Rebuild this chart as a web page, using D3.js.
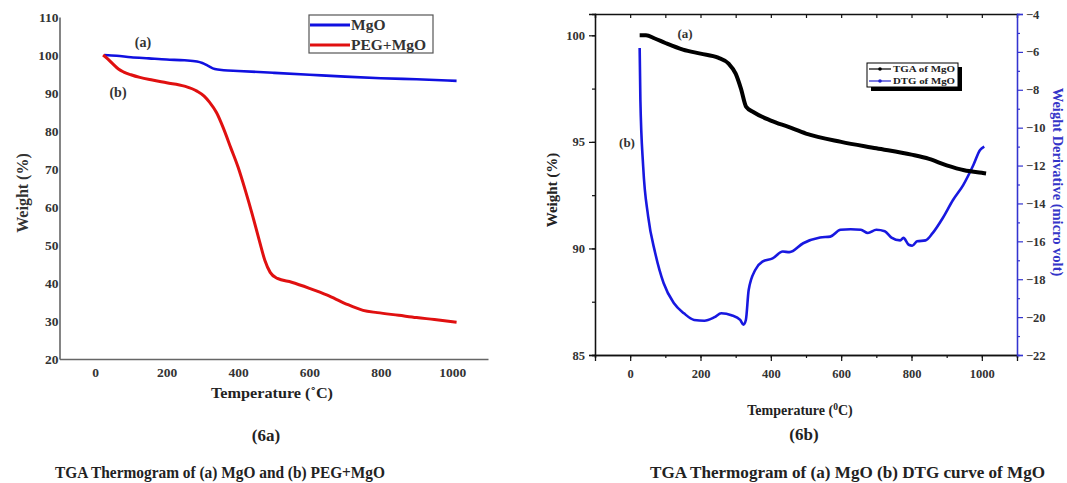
<!DOCTYPE html>
<html>
<head>
<meta charset="utf-8">
<script src="https://cdn.jsdelivr.net/npm/d3@7"></script>
<style>
  body { margin: 0; background: #fff; }
  svg text { font-family: "Liberation Serif", "Times New Roman", serif; font-weight: bold; }
</style>
</head>
<body>
<svg id="fig" width="1067" height="483"></svg>
<script>
// ---- left panel (6a): MgO vs PEG+MgO
const mgoT = [25, 60, 100, 150, 200, 250, 285, 300, 315, 335, 360, 400, 500, 600, 700, 800, 900, 1012]
const mgoW = [100, 99.8, 99.4, 99.1, 98.8, 98.6, 98.3, 97.9, 97.2, 96.3, 96.0, 95.8, 95.3, 94.8, 94.3, 93.9, 93.6, 93.2]
const pegT = [22, 35, 50, 65, 80, 100, 125, 160, 200, 250, 285, 305, 320, 340, 360, 380, 400, 420, 440, 460, 475, 490, 510, 550, 600, 650, 700, 750, 790, 850, 900, 950, 1012]
const pegW = [100, 99.0, 97.6, 96.3, 95.5, 94.8, 94.1, 93.4, 92.7, 91.8, 90.5, 89.2, 87.6, 84.8, 80.5, 75.5, 70.5, 64.5, 58, 51, 46, 42.8, 41.2, 40.2, 38.6, 36.8, 34.6, 32.8, 32.2, 31.5, 30.9, 30.4, 29.7]
const leftYTicks = [20, 30, 40, 50, 60, 70, 80, 90, 100, 110]
const tempTicks = [0, 200, 400, 600, 800, 1000]

// ---- right panel (6b): TGA and DTG of MgO
const tgaT = [27, 45, 70, 100, 150, 200, 250, 280, 300, 315, 330, 350, 400, 450, 500, 600, 700, 800, 850, 900, 950, 1000, 1012]
const tgaW = [100, 100, 99.85, 99.64, 99.33, 99.14, 98.95, 98.67, 98.2, 97.5, 96.64, 96.4, 96.0, 95.7, 95.39, 95.0, 94.7, 94.4, 94.2, 93.9, 93.67, 93.55, 93.52]
const dtgT = [27, 29, 37, 51, 71, 95, 124, 153, 182, 211, 240, 259, 288, 313, 322, 329, 337, 356, 376, 405, 434, 453, 492, 540, 569, 598, 627, 656, 676, 700, 724, 743, 768, 777, 792, 802, 816, 840, 860, 889, 918, 947, 976, 995, 1007]
const dtgV = [-5.8, -8.5, -12.05, -14.67, -16.6, -18.2, -19.26, -19.8, -20.15, -20.19, -20.0, -19.8, -19.9, -20.15, -20.4, -20.15, -18.57, -17.5, -17.07, -16.9, -16.54, -16.57, -16.1, -15.8, -15.75, -15.39, -15.36, -15.39, -15.56, -15.39, -15.47, -15.8, -15.95, -15.82, -16.18, -16.23, -16.0, -15.95, -15.57, -14.77, -13.82, -13.03, -11.97, -11.18, -11.0]
const wTicks = [85, 90, 95, 100]
const dTicks = [-22, -20, -18, -16, -14, -12, -10, -8, -6, -4]

const svg = d3.select("#fig")
const zip = (xs, ys) => xs.map((x, i) => [x, ys[i]])
const fmt = d3.format("d")

// ================= panel 6a =================
{
  const x = d3.scaleLinear().domain([-100, 1100]).range([59.5, 488])
  const y = d3.scaleLinear().domain([20, 110]).range([359, 17])
  const g = svg.append("g")

  g.append("g").attr("transform", "translate(0,359)")
    .call(d3.axisBottom(x).tickValues(tempTicks).tickFormat(fmt).tickSize(0).tickPadding(8))
    .call(a => a.select(".domain").attr("stroke", "#666").attr("stroke-width", 1.6))
    .call(a => a.selectAll("text").attr("font-size", 13.5).attr("fill", "#333"))

  g.append("g").attr("transform", "translate(59.5,0)")
    .call(d3.axisLeft(y).tickValues(leftYTicks).tickSize(0).tickPadding(1))
    .call(a => a.select(".domain").attr("stroke", "#666").attr("stroke-width", 1.6))
    .call(a => a.selectAll("text").attr("font-size", 13.5).attr("fill", "#333"))

  const line = d3.line().x(d => x(d[0])).y(d => y(d[1])).curve(d3.curveMonotoneX)
  g.append("path").datum(zip(mgoT, mgoW)).attr("d", line)
    .attr("fill", "none").attr("stroke", "#1010e0").attr("stroke-width", 2.6)
  g.append("path").datum(zip(pegT, pegW)).attr("d", line)
    .attr("fill", "none").attr("stroke", "#e01010").attr("stroke-width", 3)

  // legend
  const lg = g.append("g")
  lg.append("rect").attr("x", 309).attr("y", 15).attr("width", 124).attr("height", 38)
    .attr("fill", "#fff").attr("stroke", "#555").attr("stroke-width", 1.2)
  ;[["MgO", "#1010e0", 25], ["PEG+MgO", "#e01010", 45]].forEach(([t, c, yy]) => {
    lg.append("line").attr("x1", 310).attr("x2", 350).attr("y1", yy).attr("y2", yy)
      .attr("stroke", c).attr("stroke-width", 3)
    lg.append("text").attr("x", 351).attr("y", yy + 5).attr("font-size", 15.5).attr("fill", "#333").text(t)
  })

  g.append("text").attr("x", 143).attr("y", 47).attr("text-anchor", "middle").attr("font-size", 14).attr("fill", "#333").text("(a)")
  g.append("text").attr("x", 118).attr("y", 97).attr("text-anchor", "middle").attr("font-size", 14).attr("fill", "#333").text("(b)")

  g.append("text").attr("transform", "translate(28,193) rotate(-90)").attr("text-anchor", "middle")
    .attr("font-size", 16).attr("fill", "#333").text("Weight (%)")
  g.append("text").attr("x", 272).attr("y", 398).attr("text-anchor", "middle")
    .attr("font-size", 14.5).attr("fill", "#222")
    .attr("textLength", 122).attr("lengthAdjust", "spacingAndGlyphs").text("Temperature (˚C)")
  g.append("text").attr("x", 266).attr("y", 441).attr("text-anchor", "middle")
    .attr("font-size", 17).attr("fill", "#222").text("(6a)")
  g.append("text").attr("x", 55).attr("y", 478).attr("font-size", 16).attr("fill", "#222")
    .attr("textLength", 330).attr("lengthAdjust", "spacingAndGlyphs")
    .text("TGA Thermogram of (a) MgO and (b) PEG+MgO")
}

// ================= panel 6b =================
{
  const x = d3.scaleLinear().domain([-100, 1100]).range([595, 1017])
  const y = d3.scaleLinear().domain([85, 101]).range([355, 14])
  const y2 = d3.scaleLinear().domain([-22, -4]).range([355, 14])
  const g = svg.append("g")
  const minorT = d3.range(-100, 1101, 100)

  const style = a => {
    a.select(".domain").attr("stroke", "#111").attr("stroke-width", 1.3)
    a.selectAll("line").attr("stroke", "#111").attr("stroke-width", 1.2)
    a.selectAll("text").attr("font-size", 12.5).attr("fill", "#333")
  }

  // bottom: minor + major
  g.append("g").attr("transform", "translate(0,355)")
    .call(d3.axisBottom(x).tickValues(minorT).tickSize(3).tickFormat(""))
    .call(style)
  g.append("g").attr("transform", "translate(0,355)")
    .call(d3.axisBottom(x).tickValues(tempTicks).tickFormat(fmt).tickSize(6).tickPadding(8))
    .call(style)
  // top, inward ticks
  g.append("g").attr("transform", "translate(0,14)")
    .call(d3.axisBottom(x).tickValues(minorT).tickSize(4).tickFormat(""))
    .call(style)
  // left
  g.append("g").attr("transform", "translate(595,0)")
    .call(d3.axisLeft(y).tickValues(d3.range(85, 101, 2.5)).tickSize(3).tickFormat(""))
    .call(style)
  g.append("g").attr("transform", "translate(595,0)")
    .call(d3.axisLeft(y).tickValues(wTicks).tickSize(6).tickPadding(4))
    .call(style)
  // right (blue)
  const blueAxis = a => {
    a.select(".domain").attr("stroke", "#3434d0").attr("stroke-width", 1.3)
    a.selectAll("line").attr("stroke", "#3434d0").attr("stroke-width", 1.2)
    a.selectAll("text").attr("font-size", 12.5).attr("fill", "#333")
  }
  g.append("g").attr("transform", "translate(1017,0)")
    .call(d3.axisRight(y2).tickValues(d3.range(-21, -4, 2)).tickSize(3).tickFormat(""))
    .call(blueAxis)
  g.append("g").attr("transform", "translate(1017,0)")
    .call(d3.axisRight(y2).tickValues(dTicks).tickSize(6).tickPadding(3))
    .call(blueAxis)

  const tga = d3.line().x(d => x(d[0])).y(d => y(d[1])).curve(d3.curveMonotoneX)
  const dtg = d3.line().x(d => x(d[0])).y(d => y2(d[1])).curve(d3.curveMonotoneX)
  g.append("path").datum(zip(dtgT, dtgV)).attr("d", dtg)
    .attr("fill", "none").attr("stroke", "#1818e0").attr("stroke-width", 2.6)
  g.append("path").datum(zip(tgaT, tgaW)).attr("d", tga)
    .attr("fill", "none").attr("stroke", "#000").attr("stroke-width", 4)

  // legend with shadow
  const lg = g.append("g")
  lg.append("rect").attr("x", 871).attr("y", 67).attr("width", 91).attr("height", 24).attr("fill", "#000")
  lg.append("rect").attr("x", 867).attr("y", 63).attr("width", 91).attr("height", 24)
    .attr("fill", "#fff").attr("stroke", "#000").attr("stroke-width", 1)
  ;[["TGA of MgO", "#000", 69], ["DTG of MgO", "#2222d0", 81]].forEach(([t, c, yy]) => {
    lg.append("line").attr("x1", 869).attr("x2", 891).attr("y1", yy).attr("y2", yy)
      .attr("stroke", c).attr("stroke-width", 1.2)
    lg.append("circle").attr("cx", 880).attr("cy", yy).attr("r", 1.8).attr("fill", c)
    lg.append("text").attr("x", 893).attr("y", yy + 3).attr("font-size", 8.5).attr("fill", "#222")
      .attr("textLength", 62).attr("lengthAdjust", "spacingAndGlyphs").text(t)
  })

  g.append("text").attr("x", 685).attr("y", 38).attr("text-anchor", "middle").attr("font-size", 13).attr("fill", "#333").text("(a)")
  g.append("text").attr("x", 627).attr("y", 147).attr("text-anchor", "middle").attr("font-size", 13).attr("fill", "#333").text("(b)")

  g.append("text").attr("transform", "translate(557,190) rotate(-90)").attr("text-anchor", "middle")
    .attr("font-size", 15).attr("fill", "#222").text("Weight (%)")
  g.append("text").attr("transform", "translate(1053,182) rotate(90)").attr("text-anchor", "middle")
    .attr("font-size", 14.5).attr("fill", "#3434c8").text("Weight Derivative (micro volt)")

  const xl = g.append("text").attr("x", 800).attr("y", 415).attr("text-anchor", "middle")
    .attr("font-size", 14).attr("fill", "#222")
  xl.append("tspan").text("Temperature (")
  xl.append("tspan").attr("font-size", 9.5).attr("dy", -5).text("0")
  xl.append("tspan").attr("dy", 5).text("C)")
  g.append("text").attr("x", 804).attr("y", 440).attr("text-anchor", "middle")
    .attr("font-size", 17).attr("fill", "#222").text("(6b)")
  g.append("text").attr("x", 650).attr("y", 478).attr("font-size", 16).attr("fill", "#222")
    .attr("textLength", 395).attr("lengthAdjust", "spacingAndGlyphs")
    .text("TGA Thermogram of (a) MgO (b) DTG curve of MgO")
}
</script>
</body>
</html>
